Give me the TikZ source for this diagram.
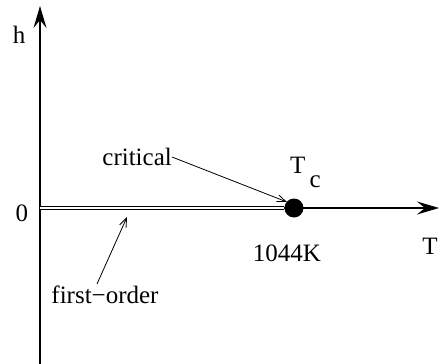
\documentclass[tikz,border=0pt]{standalone}
\usepackage{fontspec}
\setmainfont{Liberation Serif}
\usetikzlibrary{arrows.meta}
\begin{document}
\begin{tikzpicture}[x=1pt,y=-1pt,
  axis/.style={line width=1.3pt,-{Stealth[length=22pt,width=13pt,inset=8pt]}},
  lbl/.style={inner sep=0pt,font=\fontsize{25}{30}\selectfont},
  pointer/.style={line width=0.8pt,-{Straight Barb[length=9pt,width=7pt]}}]
\useasboundingbox (0,0) rectangle (439,364);
\coordinate (O) at (40,208);
\coordinate (ybot) at (40,364);
\coordinate (ytop) at (40,6);
\coordinate (xend) at (439,208);
\draw[axis] (ybot) -- (ytop);
\draw[axis] (O) -- (xend);
\node[circle,fill=black,inner sep=0pt,minimum size=19pt] (Tc) at (294,208) {};
\draw[line width=0.8pt,double=white,double distance=2.4pt] (O) -- (Tc.west);
\node[lbl] (h) at (19,35) {h};
\node[lbl] (zero) at (22,213) {0};
\node[lbl] (T) at (430,246) {T};
\node[lbl] (K) at (287,253) {1044K};
\node[lbl,anchor=base west] (Tclbl) at (290,173) {T\raisebox{-14pt}{\,c}};
\node[lbl,anchor=east] (crit) at (172,157) {critical};
\node[lbl] (fo) at (105,295) {first\textminus order};
\coordinate (critend) at (287,202);
\coordinate (foend) at (127,217);
\coordinate (fostart) at (97,284);
\draw[pointer] (crit.east) -- (critend);
\draw[pointer] (fostart) -- (foend);
\end{tikzpicture}
\end{document}
